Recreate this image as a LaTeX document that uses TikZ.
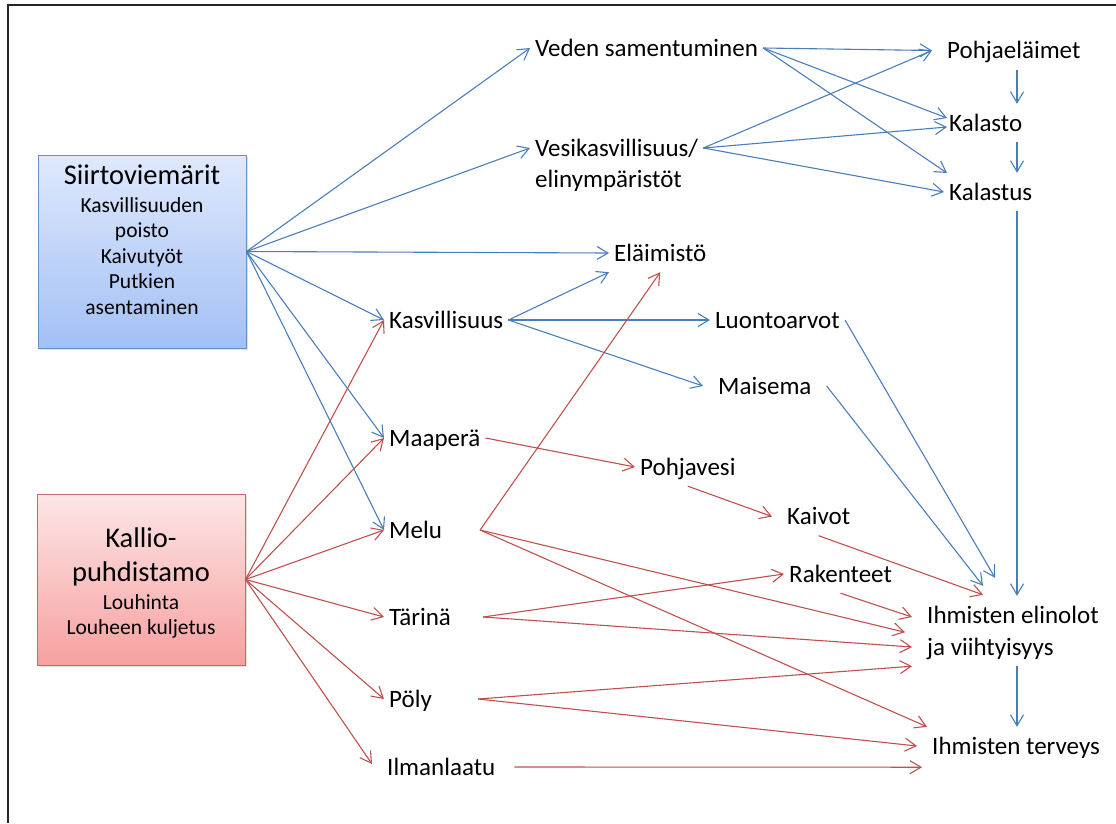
\documentclass[tikz,border=0pt]{standalone}
\usepackage{fontspec}
\setmainfont{Carlito}
\usetikzlibrary{arrows.meta,shadows}
\definecolor{arblue}{HTML}{4A7EBB}
\definecolor{arred}{HTML}{C0504D}
\definecolor{siirtotop}{RGB}{223,233,252}
\definecolor{siirtobot}{RGB}{163,192,245}
\definecolor{kalliotop}{RGB}{253,230,230}
\definecolor{kalliobot}{RGB}{247,160,160}
\tikzset{
  lbl/.style={anchor=west, font=\fontsize{25}{30}\selectfont, inner xsep=5pt, inner ysep=11pt,
    text height=16pt, text depth=0pt},
  barrow/.style={draw=arblue, line width=1.1pt, -{Straight Barb[length=11pt,width=13pt]}},
  rarrow/.style={barrow, draw=arred},
  boxtxt/.style={inner sep=0pt, align=center},
  srcbox/.style={minimum width=208pt, line width=1pt,
    drop shadow={opacity=0.25, shadow xshift=1.5pt, shadow yshift=-2pt}},
}
\begin{document}
\begin{tikzpicture}[x=1pt, y=-1pt]
  \useasboundingbox (0,0) rectangle (1116,823);
  \draw[line width=1.6pt, black!85] (8,823) -- (8,5) -- (1116,5);
  % source boxes
  \node[srcbox, minimum height=193pt, draw=arblue!85, top color=siirtotop, bottom color=siirtobot] (siirto) at (142,251.5) {};
  \node[srcbox, minimum height=171pt, draw=arred!85, top color=kalliotop, bottom color=kalliobot] (kallio) at (141,579.5) {};
  \node[boxtxt, anchor=base, font=\fontsize{28.5}{34}\selectfont] (siirtoT) at (142,184) {Siirtoviemärit};
  \node[boxtxt, anchor=north, font=\fontsize{21.5}{25.5}\selectfont] (siirtoS) at (142,197) {Kasvillisuuden\\poisto\\Kaivutyöt\\Putkien\\asentaminen};
  \node[boxtxt, anchor=north, font=\fontsize{28.5}{34.3}\selectfont] (kallioT) at (141,527) {Kallio-\\puhdistamo};
  \node[boxtxt, anchor=north, font=\fontsize{21.5}{25}\selectfont] (kallioS) at (141,594) {Louhinta\\Louheen kuljetus};
  % labels
  \node[lbl] (veden) at (530,48) {Veden samentuminen};
  \node[lbl] (vesi) at (530,148) {Vesikasvillisuus/};
  \node[lbl] (vesib) at (530,179) {elinympäristöt};
  \node[lbl] (pohja) at (942,50.5) {Pohjaeläimet};
  \node[lbl] (kalasto) at (944,123) {Kalasto};
  \node[lbl] (kalastus) at (944,192) {Kalastus};
  \node[lbl] (elaim) at (609,253) {Eläimistö};
  \node[lbl] (kasv) at (384,320) {Kasvillisuus};
  \node[lbl] (luonto) at (710,320) {Luontoarvot};
  \node[lbl] (maisema) at (713,386) {Maisema};
  \node[lbl] (maapera) at (384,438) {Maaperä};
  \node[lbl] (pohjav) at (635,467) {Pohjavesi};
  \node[lbl] (kaivot) at (782,516.5) {Kaivot};
  \node[lbl] (melu) at (384,530) {Melu};
  \node[lbl] (rakent) at (784,574) {Rakenteet};
  \node[lbl] (tarina) at (384,617) {Tärinä};
  \node[lbl] (elin) at (922,615) {Ihmisten elinolot};
  \node[lbl] (viiht) at (922,647) {ja viihtyisyys};
  \node[lbl] (poly) at (384,699) {Pöly};
  \node[lbl] (ilma) at (382,767) {Ilmanlaatu};
  \node[lbl] (terveys) at (927,746) {Ihmisten terveys};
  \coordinate (vcol) at (1017,0);
  % blue connectors
  \draw[barrow] (siirto.east) -- (veden.west);
  \draw[barrow] (siirto.east) -- (vesi.west);
  \draw[barrow] (siirto.east) -- (elaim.west);
  \draw[barrow] (siirto.east) -- (kasv.west);
  \draw[barrow] (siirto.east) -- (maapera.west);
  \draw[barrow] (siirto.east) -- (melu.west);
  \draw[barrow] (veden.east) -- ([shift={(-10,0)}]pohja.west);
  \draw[barrow] (veden.east) -- ([shift={(3,-5)}]kalasto.west);
  \draw[barrow] (veden.east) -- ([shift={(3,-19)}]kalastus.west);
  \draw[barrow] (vesi.east) -- ([shift={(-10,0)}]pohja.west);
  \draw[barrow] (vesi.east) -- ([shift={(3,4)}]kalasto.west);
  \draw[barrow] (vesi.east) -- (kalastus.west);
  \draw[barrow] (pohja.south -| vcol) -- (kalasto.north -| vcol);
  \draw[barrow] (kalasto.south -| vcol) -- (kalastus.north -| vcol);
  \draw[barrow] (kalastus.south -| vcol) -- (elin.north -| vcol);
  \draw[barrow] (viiht.south -| vcol) -- (terveys.north -| vcol);
  \draw[barrow] (kasv.east) -- (elaim.south west);
  \draw[barrow] (kasv.east) -- (luonto.west);
  \draw[barrow] (kasv.east) -- ([shift={(-10,0)}]maisema.west);
  \draw[barrow] (luonto.east) -- ([shift={(73,-18)}]elin.north west);
  \draw[barrow] ([shift={(10,0)}]maisema.east) -- ([shift={(61,-10)}]elin.north west);
  % red connectors
  \draw[rarrow] (kallio.east) -- (kasv.west);
  \draw[rarrow] (kallio.east) -- (maapera.west);
  \draw[rarrow] (kallio.east) -- (melu.west);
  \draw[rarrow] (kallio.east) -- (tarina.west);
  \draw[rarrow] (kallio.east) -- (poly.west);
  \draw[rarrow] (kallio.east) -- ([shift={(-10,-3)}]ilma.west);
  \draw[rarrow] (maapera.east) -- (pohjav.west);
  \draw[rarrow] (pohjav.south) -- ([shift={(-10,0)}]kaivot.west);
  \draw[rarrow] (kaivot.south) -- ([shift={(61,-1)}]elin.north west);
  \draw[rarrow] ([shift={(33,0)}]melu.east) -- (elaim.south);
  \draw[rarrow] ([shift={(33,0)}]melu.east) -- ([shift={(-17,-2)}]elin.south west);
  \draw[rarrow] ([shift={(33,0)}]melu.east) -- (terveys.north west);
  \draw[rarrow] ([shift={(27,0)}]tarina.east) -- (rakent.west);
  \draw[rarrow] ([shift={(27,0)}]tarina.east) -- ([shift={(-10,0)}]viiht.west);
  \draw[rarrow] (rakent.south) -- ([shift={(-10,2)}]elin.west);
  \draw[rarrow] ([shift={(41,0)}]poly.east) -- ([shift={(-10,0)}]viiht.south west);
  \draw[rarrow] ([shift={(41,0)}]poly.east) -- ([shift={(-10,0)}]terveys.west);
  \draw[rarrow] ([shift={(14,0)}]ilma.east) -- ([shift={(-5,2)}]terveys.south west);
\end{tikzpicture}
\end{document}
